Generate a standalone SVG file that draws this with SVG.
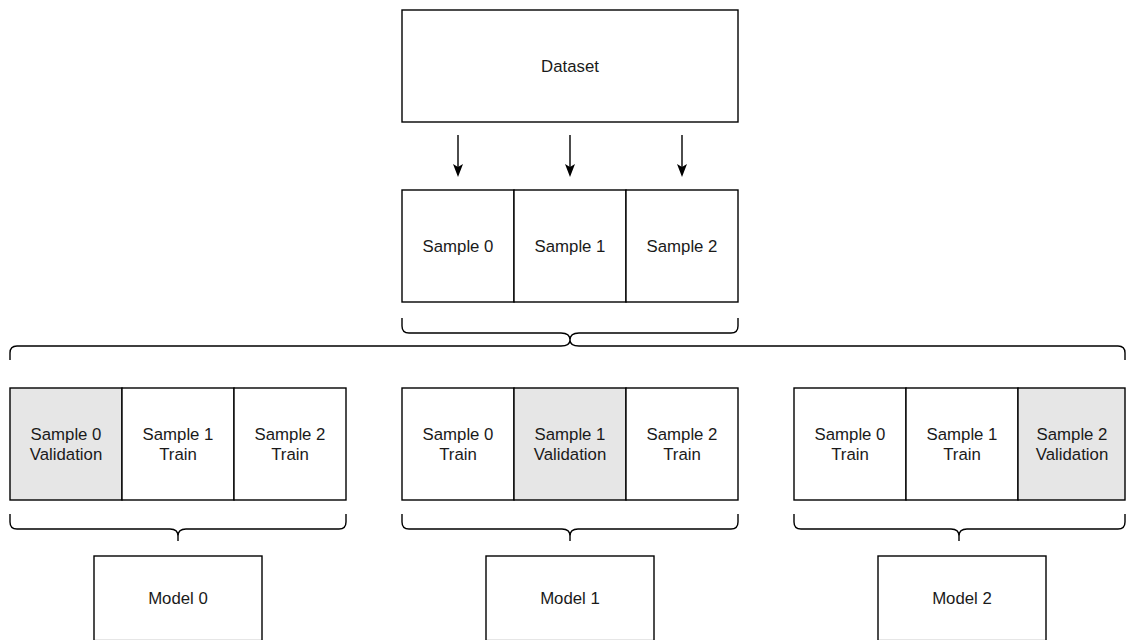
<svg xmlns="http://www.w3.org/2000/svg" width="1126" height="640" viewBox="0 0 1126 640">
<style>
.b{fill:#ffffff;stroke:#000000;stroke-width:1.4}
.g{fill:#e6e6e6;stroke:#000000;stroke-width:1.4}
.t{font-family:"Liberation Sans",Arial,sans-serif;font-size:16.8px;fill:#1a1a1a;text-anchor:middle}
.br{fill:none;stroke:#000000;stroke-width:1.4}
.ar{stroke:#000000;stroke-width:1.4;fill:none}
</style>
<defs>
<polygon id="head" points="0,0 -5,-13 0,-10 5,-13" fill="#000000"/>
</defs>
<rect width="1126" height="640" fill="#ffffff"/>
<g id="dataset"><rect class="b" x="402" y="10" width="336" height="112"/><text class="t" x="570" y="72">Dataset</text></g>
<g id="connectors">
<line class="ar" x1="458" y1="135" x2="458" y2="168"/>
<use href="#head" x="458" y="177"/>
<line class="ar" x1="570" y1="135" x2="570" y2="168"/>
<use href="#head" x="570" y="177"/>
<line class="ar" x1="682" y1="135" x2="682" y2="168"/>
<use href="#head" x="682" y="177"/>
<path class="br" d="M402,318 V326 Q402,333 409,333 H561 Q570,333 570,340 Q570,333 579,333 H731 Q738,333 738,326 V318"/>
<path class="br" d="M10,360 V353 Q10,346 17,346 H561 Q570,346 570,340 Q570,346 579,346 H1118 Q1125,346 1125,353 V360"/>
<path class="br" d="M10,514 V522 Q10,529 17,529 H170 Q178,529 178,536 Q178,529 186,529 H339 Q346,529 346,522 V514 M178,536 V541"/>
<path class="br" d="M402,514 V522 Q402,529 409,529 H562 Q570,529 570,536 Q570,529 578,529 H731 Q738,529 738,522 V514 M570,536 V541"/>
<path class="br" d="M794,514 V522 Q794,529 801,529 H951 Q959,529 959,536 Q959,529 967,529 H1118 Q1125,529 1125,522 V514 M959,536 V541"/>
</g>
<g id="samples">
<rect class="b" x="402" y="190" width="112" height="112"/><text class="t" x="458" y="252">Sample 0</text>
<rect class="b" x="514" y="190" width="112" height="112"/><text class="t" x="570" y="252">Sample 1</text>
<rect class="b" x="626" y="190" width="112" height="112"/><text class="t" x="682" y="252">Sample 2</text>
</g>
<g id="fold0">
<rect class="g" x="10" y="388" width="112" height="112"/><text class="t" x="66" y="440">Sample 0</text><text class="t" x="66" y="460">Validation</text>
<rect class="b" x="122" y="388" width="112" height="112"/><text class="t" x="178" y="440">Sample 1</text><text class="t" x="178" y="460">Train</text>
<rect class="b" x="234" y="388" width="112" height="112"/><text class="t" x="290" y="440">Sample 2</text><text class="t" x="290" y="460">Train</text>
</g>
<g id="fold1">
<rect class="b" x="402" y="388" width="112" height="112"/><text class="t" x="458" y="440">Sample 0</text><text class="t" x="458" y="460">Train</text>
<rect class="g" x="514" y="388" width="112" height="112"/><text class="t" x="570" y="440">Sample 1</text><text class="t" x="570" y="460">Validation</text>
<rect class="b" x="626" y="388" width="112" height="112"/><text class="t" x="682" y="440">Sample 2</text><text class="t" x="682" y="460">Train</text>
</g>
<g id="fold2">
<rect class="b" x="794" y="388" width="112" height="112"/><text class="t" x="850" y="440">Sample 0</text><text class="t" x="850" y="460">Train</text>
<rect class="b" x="906" y="388" width="112" height="112"/><text class="t" x="962" y="440">Sample 1</text><text class="t" x="962" y="460">Train</text>
<rect class="g" x="1018" y="388" width="107" height="112"/><text class="t" x="1072" y="440">Sample 2</text><text class="t" x="1072" y="460">Validation</text>
</g>
<g id="model0"><rect class="b" x="94" y="556" width="168" height="84.6"/><text class="t" x="178" y="604">Model 0</text></g>
<g id="model1"><rect class="b" x="486" y="556" width="168" height="84.6"/><text class="t" x="570" y="604">Model 1</text></g>
<g id="model2"><rect class="b" x="878" y="556" width="168" height="84.6"/><text class="t" x="962" y="604">Model 2</text></g>
</svg>
